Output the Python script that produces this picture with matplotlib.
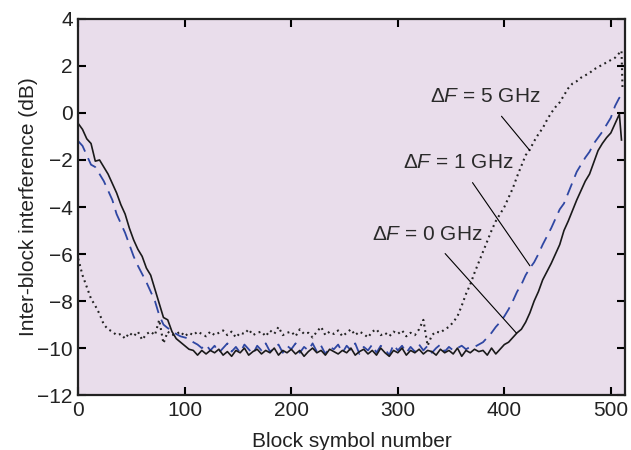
import numpy as np
import matplotlib
matplotlib.use("Agg")
import matplotlib.pyplot as plt

plt.rcParams['font.family'] = ['Liberation Sans', 'DejaVu Sans']
plt.rcParams['mathtext.fontset'] = 'custom'
plt.rcParams['mathtext.rm'] = 'Liberation Sans'
plt.rcParams['mathtext.it'] = 'Liberation Sans:italic'

# sample positions (block symbol number)
x_main = list(range(0, 512, 4))   # 0 .. 508

# dF = 0 GHz (solid black)
df0 = [-0.45, -0.7, -1.1, -1.3, -2.05, -2.0, -2.3, -2.6, -3.0, -3.4,
       -3.9, -4.3, -4.9, -5.4, -5.8, -6.1, -6.6, -6.9, -7.5, -8.1,
       -8.7, -8.8, -9.3, -9.6, -9.75, -9.9, -10.05, -10.1, -10.3, -10.1,
       -10.25, -10.1, -10.2, -10.05, -10.3, -10.15, -10.35, -10.1, -10.2, -10.0,
       -10.3, -10.15, -10.05, -10.25, -10.1, -10.2, -10.0, -10.3, -10.1, -10.2,
       -10.05, -10.25, -10.1, -10.35, -10.15, -10.0, -10.2, -10.1, -10.3, -10.05,
       -10.15, -10.25, -10.1, -10.2, -10.0, -10.3, -10.15, -10.05, -10.25, -10.1,
       -10.3, -10.0, -10.2, -10.35, -10.1, -10.2, -10.0, -10.3, -10.1, -10.2,
       -10.05, -10.25, -10.1, -10.15, -10.3, -10.05, -10.2, -10.1, -10.25, -10.0,
       -10.35, -10.1, -10.2, -10.05, -10.15, -10.1, -10.3, -10.0, -10.25, -10.05,
       -9.85, -9.75, -9.55, -9.35, -9.2, -8.9, -8.5, -8.0, -7.6, -7.1,
       -6.75, -6.4, -6.0, -5.6, -5.0, -4.6, -4.15, -3.7, -3.3, -2.9,
       -2.6, -2.1, -1.6, -1.3, -1.05, -0.85, -0.45, -0.05]
df0_end_x = [510]
df0_end = [-1.15]

# dF = 1 GHz (dashed blue)
df1 = [-1.2, -1.4, -1.8, -2.2, -2.3, -2.6, -2.9, -3.3, -3.7, -4.3,
       -4.7, -5.1, -5.6, -6.1, -6.5, -6.85, -7.2, -7.6, -8.0, -8.6,
       -9.0, -9.15, -9.25, -9.4, -9.5, -9.55, -9.6, -9.75, -9.85, -10.0,
       -9.85, -10.1, -9.9, -10.2, -10.0, -9.8, -10.15, -9.95, -10.2, -9.85,
       -10.05, -10.25, -9.9, -10.1, -9.8, -10.15, -10.0, -9.85, -10.2, -9.9,
       -10.05, -9.8, -10.2, -9.95, -10.1, -9.8, -10.15, -9.9, -10.25, -9.95,
       -10.05, -9.85, -10.2, -9.9, -10.1, -9.8, -10.25, -9.95, -10.1, -9.85,
       -10.2, -9.9, -10.05, -10.3, -9.85, -10.1, -9.9, -10.2, -9.95, -10.15,
       -9.85, -10.1, -9.9, -10.2, -10.0, -9.85, -10.15, -9.95, -10.1, -10.0,
       -9.9, -10.05, -9.95, -9.95, -9.85, -9.75, -9.55, -9.35, -9.1, -8.9,
       -8.65, -8.35, -8.0, -7.6, -7.3, -6.9, -6.6, -6.35, -6.0, -5.6,
       -5.25, -4.9, -4.5, -4.1, -3.85, -3.4, -2.95, -2.5, -2.2, -1.9,
       -1.65, -1.3, -1.05, -0.8, -0.5, -0.2, 0.3, 0.65]
df1_end_x = [510]
df1_end = [0.5]

# dF = 5 GHz (dotted black)
df5 = [-6.2, -6.9, -7.4, -7.9, -8.2, -8.55, -9.0, -9.2, -9.3, -9.45,
       -9.4, -9.6, -9.35, -9.5, -9.3, -9.65, -9.4, -9.3, -9.45, -8.8,
       -9.8, -9.3, -9.45, -9.4, -9.3, -9.5, -9.35, -9.45, -9.3, -9.4,
       -9.5, -9.3, -9.45, -9.35, -9.25, -9.45, -9.3, -9.55, -9.35, -9.4,
       -9.2, -9.45, -9.35, -9.3, -9.5, -9.25, -9.4, -9.1, -9.45, -9.35,
       -9.3, -9.5, -9.2, -9.4, -9.35, -9.55, -9.3, -9.1, -9.45, -9.3,
       -9.4, -9.25, -9.5, -9.35, -9.2, -9.45, -9.3, -9.4, -9.55, -9.3,
       -9.2, -9.45, -9.35, -9.5, -9.3, -9.4, -9.25, -9.5, -9.35, -9.45,
       -9.2, -8.8, -9.9, -9.45, -9.3, -9.35, -9.2, -9.1, -8.9, -8.65,
       -8.2, -7.7, -7.3, -6.8, -6.35, -5.9, -5.45, -5.0, -4.6, -4.3,
       -4.0, -3.6, -3.2, -2.7, -2.25, -1.8, -1.55, -1.2, -0.9, -0.65,
       -0.3, 0.0, 0.25, 0.45, 0.75, 1.05, 1.25, 1.35, 1.5, 1.6,
       1.7, 1.85, 1.95, 2.05, 2.15, 2.25, 2.35, 2.55]
df5_end_x = [510, 511]
df5_end = [2.65, 1.0]

labels = ['Δ$\\mathit{F}$ = 5 GHz', 'Δ$\\mathit{F}$ = 1 GHz', 'Δ$\\mathit{F}$ = 0 GHz']

fig = plt.figure(figsize=(6.31, 4.5), dpi=100)
ax = fig.add_axes([0.124, 0.122, 0.866, 0.836])
ax.set_facecolor('#e9ddeb')

ax.plot(x_main + df5_end_x, df5 + df5_end, color='#222222', lw=1.5, ls=(0, (0.9, 1.8)))
ax.plot(x_main + df1_end_x, df1 + df1_end, color='#2f47a3', lw=1.3, ls=(0, (7, 4)))
ax.plot(x_main + df0_end_x, df0 + df0_end, color='#1a1a1a', lw=1.2)

# annotations with leader lines
ax.annotate(labels[0], xy=(424, -1.6), xytext=(382, 0.7), ha='center', va='center',
            fontsize=15, color='#2a2a2a',
            arrowprops=dict(arrowstyle='-', color='black', lw=0.8, shrinkA=7, shrinkB=0))
ax.annotate(labels[1], xy=(424, -6.5), xytext=(357, -2.1), ha='center', va='center',
            fontsize=15, color='#2a2a2a',
            arrowprops=dict(arrowstyle='-', color='black', lw=0.8, shrinkA=7, shrinkB=0))
ax.annotate(labels[2], xy=(411.5, -9.37), xytext=(328, -5.15), ha='center', va='center',
            fontsize=15, color='#2a2a2a',
            arrowprops=dict(arrowstyle='-', color='black', lw=0.8, shrinkA=7, shrinkB=0))

ax.set_xlim(0, 513)
ax.set_ylim(-12, 4)
ax.set_xticks([0, 100, 200, 300, 400, 500])
ax.set_yticks([-12, -10, -8, -6, -4, -2, 0, 2, 4])
ax.tick_params(direction='in', length=6, width=1.5, top=True, right=True,
               labelsize=15, labelcolor='#222222', pad=4)
for s in ax.spines.values():
    s.set_linewidth(1.6)
    s.set_color('#222222')

ax.set_xlabel('Block symbol number', fontsize=15, color='#222222')
ax.set_ylabel('Inter-block interference (dB)', fontsize=15, color='#222222')
ax.xaxis.set_label_coords(0.5, -0.098)
ax.yaxis.set_label_coords(-0.073, 0.5)

fig.savefig('out.png', dpi=100)
